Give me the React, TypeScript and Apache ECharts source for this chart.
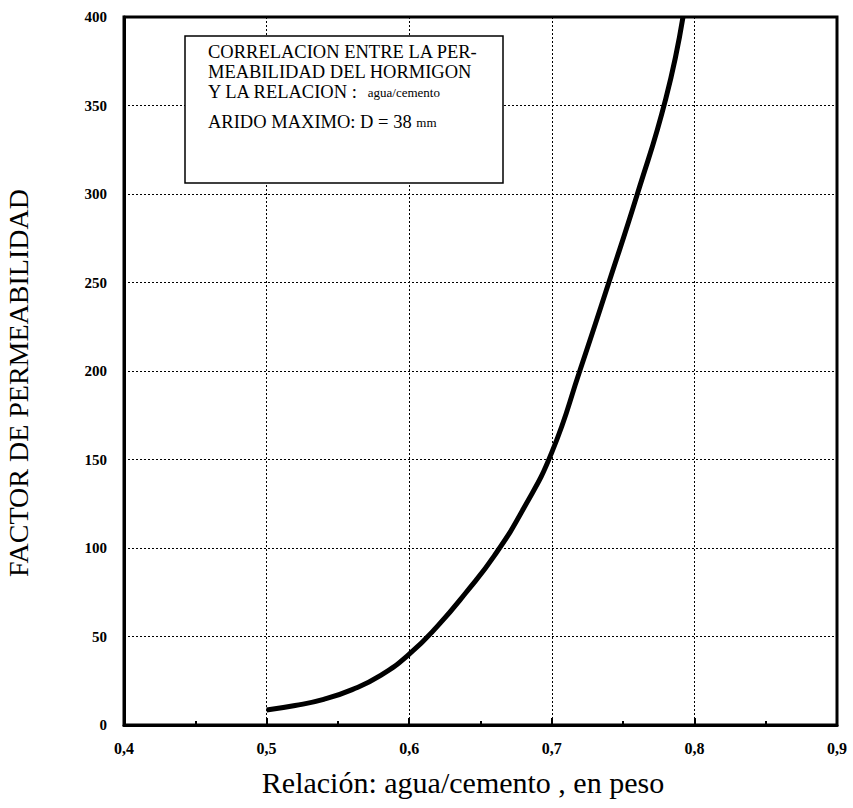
import React, { useEffect, useRef } from "react";
import * as echarts from "echarts";

const ratio = [0.5, 0.52, 0.54, 0.56, 0.58, 0.6, 0.62, 0.64, 0.66, 0.68, 0.7, 0.72, 0.74, 0.76, 0.78, 0.792];
const permeability = [8.5, 11, 14.5, 20, 28, 40, 56, 75, 96, 122, 154, 201, 250, 300, 354, 400];
const boxLine1 = "CORRELACION ENTRE LA PER-";
const boxLine2 = "MEABILIDAD DEL HORMIGON";
const boxLine3 = "Y LA RELACION :  ";
const boxSmall = "agua/cemento";
const boxLast = "ARIDO MAXIMO: D = 38 ";
const boxUnit = "mm";
const yName = "FACTOR DE PERMEABILIDAD";
const xName = "Relación: agua/cemento , en peso";

const FONT = "'Liberation Serif', 'DejaVu Serif', serif";

export default function App() {
  const ref = useRef<HTMLDivElement>(null);
  useEffect(() => {
    if (!ref.current) return;
    const chart = echarts.init(ref.current, null, { renderer: "svg" });
    const data = ratio.map((x, i) => [x, permeability[i]]);
    const boxText = (text: string, y: number) => ({
      type: "text",
      x: 208,
      y,
      z: 11,
      style: {
        text,
        fill: "#000",
        font: `18.5px ${FONT}`,
        textVerticalAlign: "middle",
        rich: { s: { fontSize: 13, fontFamily: FONT, fill: "#000" } },
      },
    });
    chart.setOption({
      animation: false,
      backgroundColor: "#fff",
      grid: {
        left: 124,
        right: 16,
        top: 17,
        bottom: 83,
        show: true,
        borderColor: "#000",
        borderWidth: 3,
      },
      xAxis: {
        type: "value",
        min: 0.4,
        max: 0.9,
        interval: 0.1,
        axisLine: { show: true, onZero: false, lineStyle: { color: "#000", width: 3 } },
        axisTick: { show: true, inside: true, length: 7, lineStyle: { color: "#000", width: 2 } },
        minorTick: { show: true, splitNumber: 2, length: 4, lineStyle: { color: "#000", width: 2 } },
        axisLabel: {
          color: "#000",
          fontFamily: FONT,
          fontWeight: "bold",
          fontSize: 16,
          margin: 15,
          formatter: (v: number) => v.toFixed(1).replace(".", ","),
        },
        splitLine: { show: true, lineStyle: { color: "#000", type: [2, 2], width: 1 } },
      },
      yAxis: {
        type: "value",
        min: 0,
        max: 400,
        interval: 50,
        axisLine: { show: true, lineStyle: { color: "#000", width: 3 } },
        axisTick: { show: false },
        axisLabel: {
          color: "#000",
          fontFamily: FONT,
          fontWeight: "bold",
          fontSize: 15,
          margin: 17,
        },
        splitLine: { show: true, lineStyle: { color: "#000", type: [2, 2], width: 1 } },
      },
      series: [
        {
          type: "line",
          data,
          smooth: 0.5,
          showSymbol: false,
          lineStyle: { color: "#000", width: 5 },
        },
      ],
      graphic: [
        {
          type: "rect",
          x: 185,
          y: 36,
          shape: { width: 318, height: 147 },
          style: { fill: "#fff", stroke: "#000", lineWidth: 1.5 },
          z: 10,
        },
        boxText(boxLine1, 52),
        boxText(boxLine2, 72),
        boxText(boxLine3 + "{s|" + boxSmall + "}", 92),
        boxText(boxLast + "{s|" + boxUnit + "}", 122),
        {
          type: "text",
          x: 463,
          y: 782,
          z: 11,
          style: {
            text: xName,
            fill: "#000",
            font: `30px ${FONT}`,
            textAlign: "center",
            textVerticalAlign: "middle",
          },
        },
        {
          type: "text",
          x: 18,
          y: 383,
          rotation: Math.PI / 2,
          z: 11,
          style: {
            text: yName,
            fill: "#000",
            font: `28px ${FONT}`,
            textAlign: "center",
            textVerticalAlign: "middle",
          },
        },
      ],
    });
    return () => chart.dispose();
  }, []);
  return (
    <div
      ref={ref}
      style={{ position: "fixed", left: 0, top: 0, width: 853, height: 808, background: "#fff" }}
    />
  );
}
